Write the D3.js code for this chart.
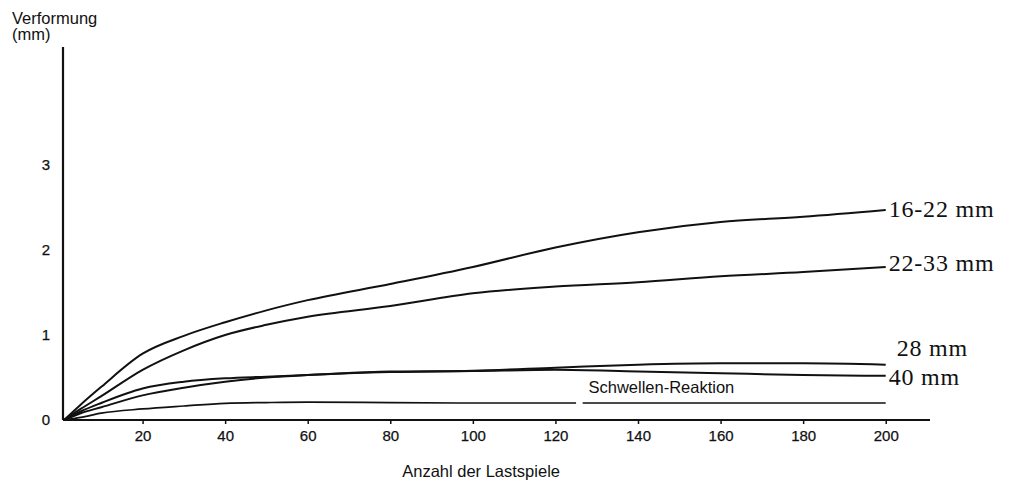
<!DOCTYPE html>
<html><head><meta charset="utf-8">
<script src="https://cdn.jsdelivr.net/npm/d3@7"></script>
<style>
html,body{margin:0;padding:0;background:#fff;}
svg{display:block;}
.sans{font-family:"Liberation Sans",Arial,Helvetica,sans-serif;fill:#111;}
.serif{font-family:"Liberation Serif","Times New Roman",serif;fill:#111;}
</style></head>
<body>
<svg id="chart" width="1014" height="484"></svg>
<script>
// ---- data ----
const xVals   = [1, 5, 10, 20, 30, 40, 50, 60, 80, 100, 120, 140, 160, 180, 200];
const s16_22  = [0, 0.18, 0.39, 0.78, 0.99, 1.15, 1.29, 1.41, 1.60, 1.80, 2.03, 2.21, 2.33, 2.39, 2.47];
const s22_33  = [0, 0.13, 0.28, 0.59, 0.82, 1.00, 1.12, 1.215, 1.34, 1.49, 1.57, 1.62, 1.69, 1.74, 1.80];
const s28     = [0, 0.10, 0.20, 0.37, 0.45, 0.49, 0.51, 0.53, 0.57, 0.58, 0.615, 0.65, 0.667, 0.667, 0.65];
const s40     = [0, 0.08, 0.15, 0.29, 0.38, 0.45, 0.50, 0.53, 0.565, 0.575, 0.59, 0.57, 0.55, 0.53, 0.52];
const schX    = [1, 5, 10, 20, 30, 40, 50, 60, 80, 100, 120, 125, 125.8, 126.6, 140, 160, 180, 200];
const schY    = [0, 0.03, 0.08, 0.13, 0.165, 0.196, 0.205, 0.21, 0.205, 0.20, 0.20, 0.20, null, 0.20, 0.20, 0.20, 0.20, 0.20];
const seriesNames = ["16-22 mm", "22-33 mm", "28 mm", "40 mm"];
const xTicks = [20, 40, 60, 80, 100, 120, 140, 160, 180, 200];
const yTicks = [0, 1, 2, 3];
const yTitle = ["Verformung", "(mm)"];
const xTitle = "Anzahl der Lastspiele";
const schLabel = "Schwellen-Reaktion";

// ---- scales ----
const svg = d3.select("#chart");
const x = d3.scaleLinear().domain([0, 210]).range([60, 927]);
const y = d3.scaleLinear().domain([0, 3]).range([420, 165]);
const axisX0 = 63, axisXEnd = 930, axisYTop = 47;

// axes lines
svg.append("line").attr("x1", axisX0).attr("x2", axisX0).attr("y1", axisYTop).attr("y2", y(0))
  .attr("stroke", "#111").attr("stroke-width", 2.2);
svg.append("line").attr("x1", axisX0).attr("x2", axisXEnd).attr("y1", y(0)).attr("y2", y(0))
  .attr("stroke", "#111").attr("stroke-width", 2.2);

// x axis ticks via d3 axis
const gx = svg.append("g").attr("transform", `translate(0,${y(0)})`)
  .call(d3.axisBottom(x).tickValues(xTicks).tickSize(4).tickPadding(6).tickFormat(d3.format("d")));
gx.select(".domain").remove();
gx.selectAll(".tick line").attr("stroke", "#111").attr("stroke-width", 1.5);
gx.selectAll(".tick text").attr("font-size", 15)
  .attr("font-family", "Liberation Sans, Arial, sans-serif").attr("fill", "#111")
  .attr("stroke", "#111").attr("stroke-width", 0.25);

// y axis labels (no tick marks)
const gy = svg.append("g").attr("transform", `translate(${axisX0},0)`)
  .call(d3.axisLeft(y).tickValues(yTicks).tickSize(0).tickPadding(13).tickFormat(d3.format("d")));
gy.select(".domain").remove();
gy.selectAll(".tick text").attr("font-size", 15)
  .attr("font-family", "Liberation Sans, Arial, sans-serif").attr("fill", "#111")
  .attr("stroke", "#111").attr("stroke-width", 0.25);

// titles
svg.append("text").attr("class", "sans").attr("x", 12).attr("y", 24).attr("font-size", 16.5).text(yTitle[0]);
svg.append("text").attr("class", "sans").attr("x", 12).attr("y", 40).attr("font-size", 16.5).text(yTitle[1]);
svg.append("text").attr("class", "sans").attr("x", x(102)).attr("y", 477).attr("text-anchor", "middle")
  .attr("font-size", 16.5).text(xTitle);

// curves
const line = d3.line().defined(d => d[1] !== null).x(d => x(d[0])).y(d => y(d[1])).curve(d3.curveMonotoneX);
const allSeries = [s16_22, s22_33, s28, s40];
allSeries.forEach(s => {
  svg.append("path").datum(xVals.map((v, i) => [v, s[i]]))
    .attr("d", line).attr("fill", "none").attr("stroke", "#111").attr("stroke-width", 2);
});
svg.append("path").datum(schX.map((v, i) => [v, schY[i]]))
  .attr("d", line).attr("fill", "none").attr("stroke", "#111").attr("stroke-width", 1.7);

// right labels (serif)
const last = xVals.length - 1;
const labelPos = [
  {dx: 3, dy: 7},
  {dx: 3, dy: 4},
  {dx: 11, dy: -9},
  {dx: 3, dy: 9}
];
allSeries.forEach((s, i) => {
  svg.append("text").attr("class", "serif")
    .attr("x", x(xVals[last]) + labelPos[i].dx)
    .attr("y", y(s[last]) + labelPos[i].dy)
    .attr("font-size", 24).attr("letter-spacing", 0.8).text(seriesNames[i]);
});

// Schwellen label
svg.append("text").attr("class", "sans").attr("x", x(128)).attr("y", y(0.2) - 10)
  .attr("font-size", 16.5).text(schLabel);
</script>
</body></html>
